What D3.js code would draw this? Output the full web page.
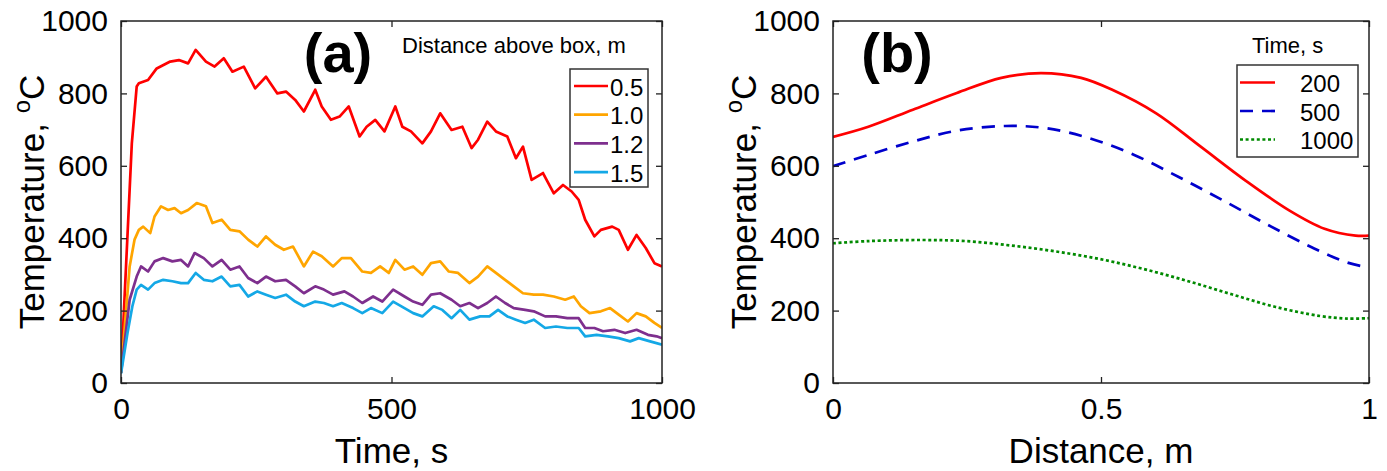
<!DOCTYPE html>
<html>
<head>
<meta charset="utf-8">
<script src="https://cdn.jsdelivr.net/npm/d3@7/dist/d3.min.js"></script>
<style>
  body { margin: 0; background: #fff; }
  svg { display: block; font-family: "Liberation Sans", Arial, sans-serif; }
</style>
</head>
<body>
<svg id="chart" width="1387" height="471"></svg>
<script>
// ---- panel (a): temperature vs time at several heights above the box ----
const heightsA = ["0.5", "1.0", "1.2", "1.5"];
const colorsA = ["#ff0000", "#ffa500", "#7e2f8e", "#14a8e6"];

const temp05 = [[0,28],[20,662],[29,819],[33,828],[50,837],[66,869],[91,888],[107,892],[124,883],[138,920],
  [157,888],[173,874],[190,897],[206,860],[227,874],[248,814],[268,846],[289,800],[305,805],[322,782],
  [338,750],[359,810],[371,764],[388,727],[404,736],[421,764],[441,681],[454,708],[470,727],[487,695],
  [507,764],[520,708],[536,695],[557,662],[573,695],[590,745],[611,699],[631,708],[648,649],[660,672],
  [677,722],[693,695],[714,681],[730,621],[743,653],[759,561],[780,580],[800,524],[817,547],[833,529],
  [846,506],[858,451],[875,405],[887,423],[908,432],[920,423],[937,368],[953,409],[970,373],[986,331],[1000,322]];

const temp10 = [[0,28],[16,322],[25,396],[33,423],[41,432],[54,414],[62,460],[74,488],[87,478],[99,483],
  [111,469],[124,478],[140,497],[157,488],[169,442],[186,451],[202,423],[219,419],[235,396],[252,377],
  [268,405],[285,382],[301,368],[318,377],[338,322],[355,363],[371,350],[392,322],[408,345],[425,345],
  [446,308],[462,304],[479,322],[495,304],[507,340],[524,313],[540,322],[557,299],[573,331],[590,336],
  [606,308],[623,304],[644,276],[660,294],[677,322],[693,304],[710,285],[726,267],[743,248],[763,244],
  [780,244],[800,239],[821,230],[837,239],[850,212],[866,193],[887,198],[904,207],[920,189],[937,170],
  [953,193],[970,184],[986,166],[1000,152]];

const temp12 = [[0,28],[16,230],[29,294],[37,322],[50,308],[62,336],[78,345],[95,336],[111,340],[124,322],
  [136,359],[153,345],[169,322],[186,340],[202,313],[219,322],[235,290],[252,276],[268,294],[285,281],
  [305,285],[322,267],[338,248],[359,267],[375,258],[392,244],[413,253],[429,239],[446,221],[466,239],
  [483,225],[503,258],[524,239],[540,225],[557,216],[573,244],[590,248],[611,230],[627,212],[644,221],
  [660,207],[677,221],[693,239],[710,221],[726,207],[747,202],[763,198],[784,184],[804,184],[825,179],
  [846,179],[858,152],[875,152],[891,143],[912,147],[932,138],[953,147],[974,133],[990,129],[1000,124]];

const temp15 = [[0,26],[12,138],[21,212],[29,258],[37,271],[50,258],[62,276],[78,285],[95,281],[111,276],
  [124,276],[138,304],[153,285],[169,281],[186,294],[202,267],[219,271],[235,239],[252,253],[268,244],
  [285,235],[305,244],[322,225],[338,212],[359,225],[375,221],[392,212],[408,221],[429,207],[446,193],
  [462,207],[483,193],[503,225],[524,207],[540,193],[557,184],[578,212],[594,202],[611,179],[627,202],
  [644,175],[664,184],[681,184],[697,202],[714,184],[730,175],[747,166],[763,175],[784,152],[804,156],
  [825,152],[846,152],[858,129],[879,133],[900,129],[920,124],[941,115],[957,124],[978,115],[1000,106]];

const seriesA = [temp05, temp10, temp12, temp15];

// ---- panel (b): temperature profile along the distance at three times ----
const timesB = ["200", "500", "1000"];
const colorsB = ["#ff0000", "#0000cc", "#008a00"];
const dashB = [null, "13,9", "3,2.6"];

const prof200 = [[0,680],[0.066,708],[0.149,755],[0.231,801],[0.314,843],[0.388,856],[0.463,843],[0.521,810],
  [0.603,745],[0.686,653],[0.769,560],[0.851,477],[0.917,426],[0.975,407],[1,407]];
const prof500 = [[0,599],[0.066,630],[0.149,667],[0.231,697],[0.322,710],[0.397,704],[0.479,676],[0.562,630],
  [0.645,569],[0.727,505],[0.81,438],[0.893,375],[0.959,333],[1,319]];
const prof1000 = [[0,386],[0.066,392],[0.165,395],[0.248,392],[0.331,380],[0.413,364],[0.496,343],[0.579,315],
  [0.661,282],[0.744,245],[0.826,210],[0.909,185],[0.959,178],[1,179]];

const seriesB = [prof200, prof500, prof1000];

const yTicks = [0, 200, 400, 600, 800, 1000];

const svg = d3.select("#chart");
svg.append("rect").attr("width", 1387).attr("height", 471).attr("fill", "#fff");

function panel(opts) {
  const { left, right, top, bottom } = opts;
  const x = d3.scaleLinear().domain(opts.xDomain).range([left, right]);
  const y = d3.scaleLinear().domain([0, 1000]).range([bottom, top]);
  const g = svg.append("g");

  const clipId = "clip-" + opts.id;
  svg.append("clipPath").attr("id", clipId)
    .append("rect").attr("x", left).attr("y", top).attr("width", right - left).attr("height", bottom - top);

  const line = d3.line().x(d => x(d[0])).y(d => y(d[1])).curve(opts.curve || d3.curveLinear);
  const lines = g.append("g").attr("clip-path", `url(#${clipId})`);
  opts.series.forEach((s, i) => {
    lines.append("path")
      .datum(s)
      .attr("d", line)
      .attr("fill", "none")
      .attr("stroke", opts.colors[i])
      .attr("stroke-width", 2.7)
      .attr("stroke-linejoin", "round")
      .attr("stroke-dasharray", opts.dash ? opts.dash[i] : null);
  });

  // axes, ticks inside on all four sides
  const font = g => g.selectAll("text").attr("font-size", 30).attr("fill", "#000")
    .attr("font-family", "'Liberation Sans', Arial, sans-serif");
  g.append("g").attr("transform", `translate(${left},0)`)
    .call(d3.axisLeft(y).tickValues(yTicks).tickSize(-6).tickPadding(13).tickFormat(d3.format("d")))
    .call(font).call(a => a.select(".domain").remove());
  g.append("g").attr("transform", `translate(${right},0)`)
    .call(d3.axisRight(y).tickValues(yTicks).tickSize(-6).tickFormat(""))
    .call(a => a.select(".domain").remove());
  g.append("g").attr("transform", `translate(0,${bottom})`)
    .call(d3.axisBottom(x).tickValues(opts.xTicks).tickSize(-6).tickPadding(15).tickFormat(opts.xFormat))
    .call(font).call(a => a.select(".domain").remove());
  g.append("g").attr("transform", `translate(0,${top})`)
    .call(d3.axisTop(x).tickValues(opts.xTicks).tickSize(-6).tickFormat(""))
    .call(a => a.select(".domain").remove());
  g.selectAll(".tick line").attr("stroke", "#222").attr("stroke-width", 1.3);

  g.append("rect")
    .attr("x", left).attr("y", top).attr("width", right - left).attr("height", bottom - top)
    .attr("fill", "none").attr("stroke", "#222").attr("stroke-width", 1.5);

  // axis labels
  g.append("text")
    .attr("x", (left + right) / 2).attr("y", 463)
    .attr("text-anchor", "middle").attr("font-size", 35)
    .text(opts.xLabel);

  const yl = g.append("text")
    .attr("transform", `translate(${left - 77},${(top + bottom) / 2}) rotate(-90)`)
    .attr("text-anchor", "middle").attr("font-size", 35);
  yl.append("tspan").text("Temperature, ");
  yl.append("tspan").attr("font-size", 24).attr("dy", -14).text("o");
  yl.append("tspan").attr("dy", 14).text("C");

  // panel letter
  g.append("text")
    .attr("x", opts.letterX).attr("y", 72)
    .attr("text-anchor", "middle").attr("font-size", 56).attr("font-weight", "bold")
    .text(opts.letter);

  return { x, y, g };
}

panel({
  id: "a", left: 121, right: 662, top: 21, bottom: 383,
  xDomain: [0, 1000], xTicks: [0, 500, 1000], xFormat: d3.format("d"),
  series: seriesA, colors: colorsA,
  xLabel: "Time, s", letter: "(a)", letterX: 338
});

panel({
  id: "b", left: 833, right: 1369, top: 21, bottom: 383,
  xDomain: [0, 1], xTicks: [0, 0.5, 1], xFormat: d => d === 0.5 ? "0.5" : String(d),
  series: seriesB, colors: colorsB, dash: dashB, curve: d3.curveCatmullRom.alpha(0.5),
  xLabel: "Distance, m", letter: "(b)", letterX: 897
});

// legend (a)
svg.append("text").attr("x", 402).attr("y", 53).attr("font-size", 22)
  .text("Distance above box, m");
const legA = svg.append("g");
legA.append("rect").attr("x", 570).attr("y", 69).attr("width", 78).attr("height", 118)
  .attr("fill", "#fff").attr("stroke", "#333").attr("stroke-width", 1.5);
heightsA.forEach((h, i) => {
  const cy = 86 + i * 28.7;
  legA.append("line").attr("x1", 574).attr("x2", 608).attr("y1", cy).attr("y2", cy)
    .attr("stroke", colorsA[i]).attr("stroke-width", 2.7);
  legA.append("text").attr("x", 610).attr("y", cy + 9.5).attr("font-size", 24).text(h);
});

// legend (b)
svg.append("text").attr("x", 1252).attr("y", 53).attr("font-size", 22).text("Time, s");
const legB = svg.append("g");
legB.append("rect").attr("x", 1237).attr("y", 65).attr("width", 121).attr("height", 92)
  .attr("fill", "#fff").attr("stroke", "#333").attr("stroke-width", 1.5);
timesB.forEach((t, i) => {
  const cy = 82.5 + i * 28.5;
  legB.append("line").attr("x1", 1240).attr("x2", 1275).attr("y1", cy).attr("y2", cy)
    .attr("stroke", colorsB[i]).attr("stroke-width", 2.7)
    .attr("stroke-dasharray", dashB[i]);
  legB.append("text").attr("x", 1300).attr("y", cy + 9.5).attr("font-size", 24).text(t);
});
</script>
</body>
</html>
